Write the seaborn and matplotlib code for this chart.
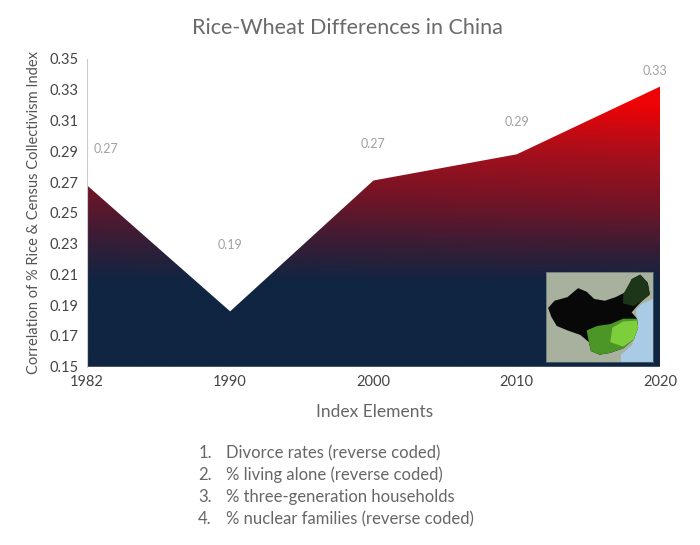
import numpy as np
import pandas as pd
import matplotlib.pyplot as plt
import seaborn as sns
from matplotlib.colors import LinearSegmentedColormap

# data
years = ["1982", "1990", "2000", "2010", "2020"]
correlation = [0.268, 0.186, 0.271, 0.288, 0.332]
value_labels = ["0.27", "0.19", "0.27", "0.29", "0.33"]
index_elements = [
    "Divorce rates (reverse coded)",
    "% living alone (reverse coded)",
    "% three-generation households",
    "% nuclear families (reverse coded)",
]

df = pd.DataFrame({"year": years, "corr": correlation})
df["pos"] = np.arange(len(df))

sns.set_style("white")
plt.rcParams["font.family"] = ["Lato", "DejaVu Sans"]

fig = plt.figure(figsize=(7, 5.45), dpi=100)
ax = fig.add_axes([0.124, 0.327, 0.819, 0.565])

# invisible line, then the area under it filled with a gradient
sns.lineplot(data=df, x="pos", y="corr", ax=ax, lw=0, color="#8a1020")
area = ax.fill_between(df["pos"], df["corr"], 0.15, color="none", lw=0)

y_min, y_max = 0.15, 0.35
ny, nx = 400, 200
yy = np.linspace(y_min, y_max, ny)[:, None]
xf = np.linspace(0, 1, nx)[None, :]
t = (yy - 0.205) / 0.128 + 0.1 * xf * np.clip((yy - 0.2) / 0.05, 0, 1)
t = np.clip(t, 0, 1)
cmap = LinearSegmentedColormap.from_list(
    "rw",
    [(0, "#0f2542"), (0.25, "#3e1c34"), (0.5, "#751426"), (0.75, "#a80f1b"), (1, "#ee0306")],
)
im = ax.imshow(t, cmap=cmap, vmin=0, vmax=1, origin="lower", aspect="auto",
               extent=[0, len(df) - 1, y_min, y_max], interpolation="bilinear", zorder=1)
im.set_clip_path(area.get_paths()[0], transform=ax.transData)

# value labels
label_offsets = [(14, 26), (0, 48), (0, 26), (0, 23), (-4, 11.5)]
for p, v, lab, off in zip(df["pos"], df["corr"], value_labels, label_offsets):
    ax.annotate(lab, (p, v), xytext=off, textcoords="offset points",
                ha="center", va="center", fontsize=9, color="#a0a0a0")

ax.set_xlim(0, len(df) - 1)
ax.set_ylim(y_min, y_max)
ax.set_xticks(df["pos"])
ax.set_xticklabels(years)
ax.set_yticks(np.arange(0.15, 0.351, 0.02))
ax.set_yticklabels([f"{v:.2f}" for v in np.arange(0.15, 0.351, 0.02)])
ax.tick_params(axis="both", length=0, labelsize=10.5, colors="#444444", pad=6)
ax.set_xlabel("")
ax.set_ylabel("Correlation of % Rice & Census Collectivism Index", fontsize=10.5, color="#555555", labelpad=6)
for side in ["top", "right", "bottom"]:
    ax.spines[side].set_visible(False)
ax.spines["left"].set_color("#cccccc")
ax.spines["left"].set_linewidth(0.8)

fig.text(0.497, 0.949, "Rice-Wheat Differences in China", ha="center", va="center",
         fontsize=15.5, color="#6a6a6a")

# map inset (rough sketch of the picture in the corner)
mx = fig.add_axes([0.78, 0.336, 0.153, 0.165])
mx.set_facecolor("#a7b19d")
mx.set_xlim(0, 1)
mx.set_ylim(0, 1)
mx.fill([0.7, 1, 1, 0.9, 0.84, 0.86, 0.8, 0.7], [0, 0, 0.7, 0.65, 0.58, 0.38, 0.18, 0.08],
        color="#a9cbe6", lw=0)
mx.fill([0.02, 0.08, 0.2, 0.3, 0.38, 0.45, 0.55, 0.65, 0.75, 0.8, 0.88, 0.95, 0.97, 0.9, 0.85,
         0.8, 0.85, 0.86, 0.82, 0.72, 0.6, 0.5, 0.42, 0.4, 0.32, 0.2, 0.1, 0.05],
        [0.6, 0.68, 0.72, 0.82, 0.78, 0.7, 0.68, 0.72, 0.78, 0.92, 0.97, 0.88, 0.75, 0.68, 0.62,
         0.55, 0.48, 0.38, 0.25, 0.15, 0.1, 0.08, 0.12, 0.22, 0.3, 0.35, 0.4, 0.5],
        color="#080808", lw=0)
mx.fill([0.72, 0.8, 0.88, 0.95, 0.97, 0.9, 0.82, 0.72], [0.75, 0.92, 0.97, 0.88, 0.75, 0.68, 0.62, 0.65],
        color="#1d3518", lw=0)
mx.fill([0.42, 0.4, 0.38, 0.48, 0.6, 0.72, 0.85, 0.86, 0.82, 0.72, 0.6, 0.5],
        [0.12, 0.22, 0.35, 0.4, 0.42, 0.48, 0.48, 0.38, 0.25, 0.15, 0.1, 0.08], color="#4c9628", lw=0)
mx.fill([0.6, 0.62, 0.72, 0.85, 0.86, 0.82, 0.72], [0.22, 0.38, 0.45, 0.46, 0.38, 0.25, 0.17],
        color="#7ccf3a", lw=0)
mx.set_xticks([])
mx.set_yticks([])
for s in mx.spines.values():
    s.set_color("#5a6a70")
    s.set_linewidth(0.5)

# text under the chart
fig.text(0.535, 0.244, "Index Elements", ha="center", va="center", fontsize=12.5, color="#666666")
for i, item in enumerate(index_elements):
    y = 0.169 - i * 0.0405
    fig.text(0.283, y, f"{i + 1}.", ha="left", va="center", fontsize=12, color="#666666")
    fig.text(0.323, y, item, ha="left", va="center", fontsize=12, color="#666666")

fig.savefig("out.png", dpi=100)
